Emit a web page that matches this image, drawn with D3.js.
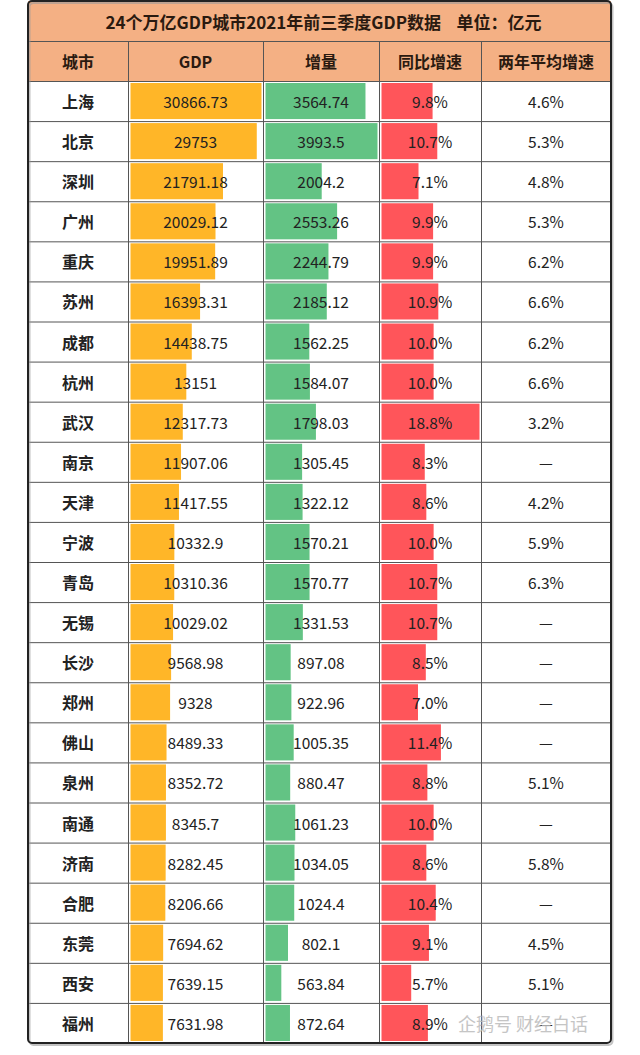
<!DOCTYPE html>
<html>
<head>
<meta charset="utf-8">
<script src="https://cdn.jsdelivr.net/npm/d3@7"></script>
<style>
  body { margin: 0; background: #fff; }
  text { font-family: "Noto Sans CJK SC", "Noto Sans", sans-serif; fill: #222; }
  .num { font-size: 15.5px; }
  .city { font-size: 16px; font-weight: bold; }
  .head { font-size: 16px; font-weight: bold; fill: #2a1a10; }
</style>
</head>
<body>
<script>
const title = '24个万亿GDP城市2021年前三季度GDP数据    单位：亿元'
const headers = ['城市', 'GDP', '增量', '同比增速', '两年平均增速']
const cities = ['上海','北京','深圳','广州','重庆','苏州','成都','杭州','武汉','南京','天津','宁波',
    '青岛','无锡','长沙','郑州','佛山','泉州','南通','济南','合肥','东莞','西安','福州']
const gdp = [30866.73, 29753, 21791.18, 20029.12, 19951.89, 16393.31, 14438.75, 13151, 12317.73,
    11907.06, 11417.55, 10332.9, 10310.36, 10029.02, 9568.98, 9328, 8489.33, 8352.72, 8345.7,
    8282.45, 8206.66, 7694.62, 7639.15, 7631.98]
const increase = [3564.74, 3993.5, 2004.2, 2553.26, 2244.79, 2185.12, 1562.25, 1584.07, 1798.03,
    1305.45, 1322.12, 1570.21, 1570.77, 1331.53, 897.08, 922.96, 1005.35, 880.47, 1061.23,
    1034.05, 1024.4, 802.1, 563.84, 872.64]
const growth = [9.8, 10.7, 7.1, 9.9, 9.9, 10.9, 10.0, 10.0, 18.8, 8.3, 8.6, 10.0, 10.7, 10.7,
    8.5, 7.0, 11.4, 8.8, 10.0, 8.6, 10.4, 9.1, 5.7, 8.9]
const twoYear = [4.6, 5.3, 4.8, 5.3, 6.2, 6.6, 6.2, 6.6, 3.2, null, 4.2, 5.9, 6.3, null, null,
    null, null, 5.1, null, 5.8, null, 4.5, 5.1, null]

const W = 640, H = 1055
const colEdges = [28, 128, 263, 379, 481, 611]
const topY = 1, titleH = 40, headH = 40, bottomY = 1043
const headerFill = '#F4B084'
const barColors = { gdp: '#FFB628', inc: '#63C384', gr: '#FF555A' }

const svg = d3.select('body').append('svg')
    .attr('width', W)
    .attr('height', H)

const y = d3.scaleBand()
    .domain(cities)
    .range([topY + titleH + headH, bottomY])

const colMid = (i) => (colEdges[i] + colEdges[i + 1]) / 2

// title + header fills
svg.append('rect')
    .attr('x', colEdges[0]).attr('y', topY)
    .attr('width', colEdges[5] - colEdges[0]).attr('height', titleH + headH)
    .attr('fill', headerFill)

svg.append('text')
    .attr('class', 'head')
    .attr('x', (colEdges[0] + colEdges[5]) / 2 + 4)
    .attr('y', topY + titleH / 2)
    .attr('text-anchor', 'middle')
    .attr('dominant-baseline', 'central')
    .style('white-space', 'pre')
    .style('font-size', '17px')
    .text(title)

svg.selectAll('text.colhead')
    .data(headers)
    .enter().append('text')
    .attr('class', 'head colhead')
    .attr('x', (d, i) => colMid(i))
    .attr('y', topY + titleH + headH / 2)
    .attr('text-anchor', 'middle')
    .attr('dominant-baseline', 'central')
    .text(d => d)

// data bars
const rows = cities.map((c, i) => ({ city: c, gdp: gdp[i], inc: increase[i], gr: growth[i], two: twoYear[i] }))

function barColumn(key, col, fmt) {
    const x0 = colEdges[col] + 2.5
    const x = d3.scaleLinear()
        .domain([0, d3.max(rows, d => d[key])])
        .range([0, colEdges[col + 1] - 1.5 - x0])

    svg.selectAll('rect.bar-' + key)
        .data(rows)
        .enter().append('rect')
        .attr('class', 'bar-' + key)
        .attr('x', x0)
        .attr('y', d => y(d.city) + 2)
        .attr('width', d => x(d[key]))
        .attr('height', y.bandwidth() - 4)
        .attr('fill', barColors[key])

    svg.selectAll('text.val-' + key)
        .data(rows)
        .enter().append('text')
        .attr('class', 'num val-' + key)
        .attr('x', colMid(col))
        .attr('y', d => y(d.city) + y.bandwidth() / 2)
        .attr('text-anchor', 'middle')
        .attr('dominant-baseline', 'central')
        .text(d => fmt(d[key]))
}

barColumn('gdp', 1, v => String(v))
barColumn('inc', 2, v => String(v))
barColumn('gr', 3, v => v.toFixed(1) + '%')

svg.selectAll('text.city')
    .data(rows)
    .enter().append('text')
    .attr('class', 'city')
    .attr('x', colMid(0))
    .attr('y', d => y(d.city) + y.bandwidth() / 2)
    .attr('text-anchor', 'middle')
    .attr('dominant-baseline', 'central')
    .text(d => d.city)

svg.selectAll('text.two')
    .data(rows)
    .enter().append('text')
    .attr('class', 'num two')
    .attr('x', colMid(4))
    .attr('y', d => y(d.city) + y.bandwidth() / 2)
    .attr('text-anchor', 'middle')
    .attr('dominant-baseline', 'central')
    .text(d => d.two == null ? '—' : d.two.toFixed(1) + '%')

// grid lines
const hLines = [topY + titleH, topY + titleH + headH].concat(cities.slice(1).map(c => y(c)))
svg.selectAll('line.h')
    .data(hLines)
    .enter().append('line')
    .attr('x1', colEdges[0]).attr('x2', colEdges[5])
    .attr('y1', d => d + 0.5).attr('y2', d => d + 0.5)
    .attr('stroke', '#555').attr('stroke-width', 1)

svg.selectAll('line.v')
    .data(colEdges.slice(1, 5))
    .enter().append('line')
    .attr('x1', d => d + 0.5).attr('x2', d => d + 0.5)
    .attr('y1', topY + titleH).attr('y2', bottomY)
    .attr('stroke', '#555').attr('stroke-width', 1)

// outer frame with a little shadow
svg.append('rect')
    .attr('x', colEdges[0] + 1.5).attr('y', topY + 2)
    .attr('width', colEdges[5] - colEdges[0]).attr('height', bottomY - topY)
    .attr('rx', 4)
    .attr('fill', 'none')
    .attr('stroke', '#999').attr('stroke-width', 2)
    .attr('opacity', 0.6)

svg.append('rect')
    .attr('x', colEdges[0]).attr('y', topY)
    .attr('width', colEdges[5] - colEdges[0]).attr('height', bottomY - topY)
    .attr('rx', 4)
    .attr('fill', 'none')
    .attr('stroke', '#222').attr('stroke-width', 2)

// watermark (sits over the last row, as in the source image)
svg.append('text')
    .attr('x', 458)
    .attr('y', y('福州') + y.bandwidth() / 2)
    .attr('dominant-baseline', 'central')
    .style('font-size', '18px')
    .style('fill', '#bbb')
    .style('opacity', 0.85)
    .text('企鹅号 财经白话')
</script>
</body>
</html>
